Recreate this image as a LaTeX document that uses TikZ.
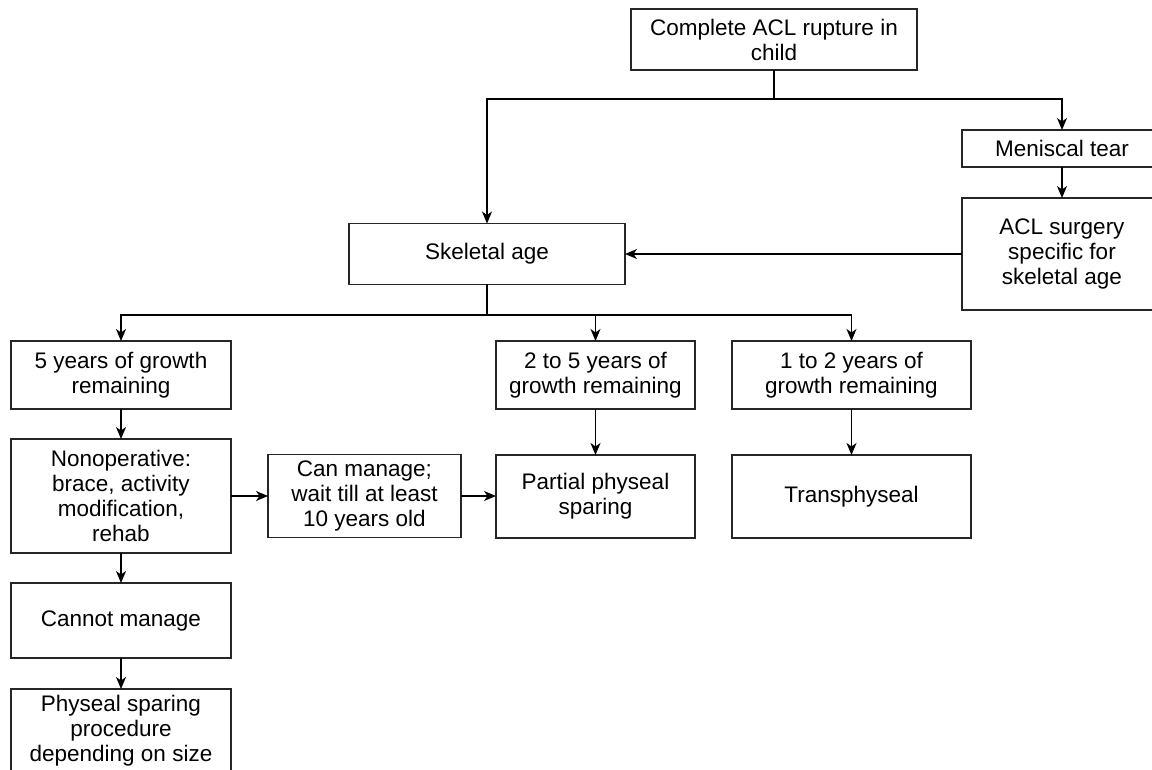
\documentclass[tikz,border=0pt]{standalone}
\usepackage{fontspec}
\setmainfont{Liberation Sans}
\usetikzlibrary{arrows.meta, positioning}

\begin{document}
\begin{tikzpicture}[
  x=1pt, y=-1pt,
  box/.style={rectangle, draw=black!85, line width=1.3pt, inner sep=0pt, outer sep=0pt,
              align=center, font=\fontsize{22.5}{25}\selectfont},
  arrow/.style={-{Stealth[length=12pt, width=10pt, inset=3.5pt]}, line width=1.3pt},
  link/.style={line width=1.3pt}
]
\clip (0,0) rectangle (1152,770);

\node[box, minimum width=286pt, minimum height=61pt] (rupture) at (774,39.5)
  {Complete ACL rupture in\\child};
\node[box, minimum width=200pt, minimum height=37pt] (meniscal) at (1062,148.5)
  {Meniscal tear};
\node[box, minimum width=200pt, minimum height=112pt, below=31pt of meniscal] (surgery)
  {ACL surgery\\specific for\\skeletal age};
\node[box, minimum width=276pt, minimum height=61pt] (skeletal) at (487,254)
  {Skeletal age};

\node[box, minimum width=220pt, minimum height=68pt] (five) at (121,375)
  {5 years of growth\\remaining};
\node[box, minimum width=199pt, minimum height=68pt] (twofive) at (595.5,375)
  {2 to 5 years of\\growth remaining};
\node[box, minimum width=239pt, minimum height=68pt] (onetwo) at (851.5,375)
  {1 to 2 years of\\growth remaining};

\node[box, minimum width=220pt, minimum height=114pt, below=30pt of five] (nonop)
  {Nonoperative:\\brace, activity\\modification,\\rehab};
\node[box, minimum width=193pt, minimum height=83pt, right=37pt of nonop] (canmanage)
  {Can manage;\\wait till at least\\10 years old};
\node[box, minimum width=199pt, minimum height=83pt, below=46pt of twofive] (partial)
  {Partial physeal\\sparing};
\node[box, minimum width=239pt, minimum height=83pt, below=46pt of onetwo] (trans)
  {Transphyseal};
\node[box, minimum width=220pt, minimum height=75pt, below=30pt of nonop] (cannot)
  {Cannot manage};
\node[box, minimum width=220pt, minimum height=84pt, below=31pt of cannot] (sparing)
  {Physeal sparing\\procedure\\depending on size};

\coordinate (split1) at (774,99);
\coordinate (split2) at (487,315);

\draw[link] (rupture) -- (split1);
\draw[arrow] (split1) -| (skeletal);
\draw[arrow] (split1) -| (meniscal);
\draw[arrow] (meniscal) -- (surgery);
\draw[arrow] (surgery.west) -- (surgery.west -| skeletal.east);

\draw[link] (skeletal) -- (split2);
\draw[arrow] (split2) -| (five);
\draw[arrow] (split2) -| (twofive);
\draw[arrow] (split2) -| (onetwo);

\draw[arrow] (five) -- (nonop);
\draw[arrow] (nonop) -- (canmanage);
\draw[arrow] (canmanage.east) -- (canmanage.east -| partial.west);
\draw[arrow] (twofive) -- (partial);
\draw[arrow] (onetwo) -- (trans);
\draw[arrow] (nonop) -- (cannot);
\draw[arrow] (cannot) -- (sparing);

\end{tikzpicture}
\end{document}
